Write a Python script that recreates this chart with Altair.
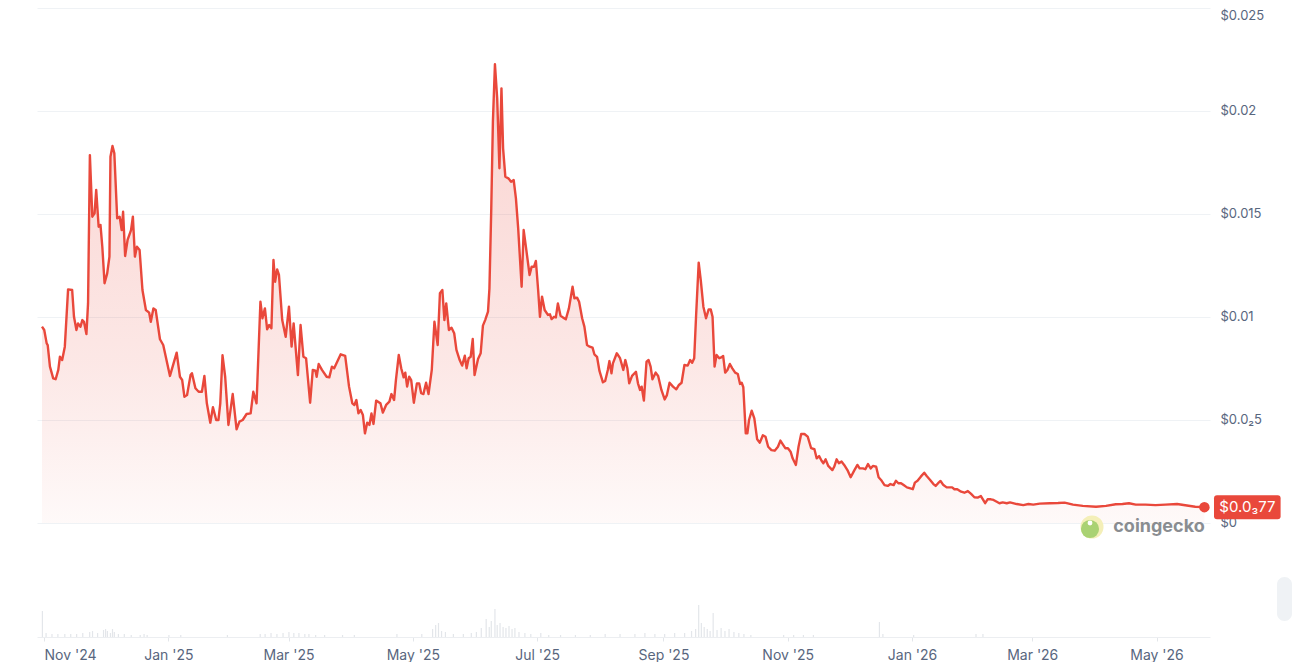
import json

import pandas as pd
import altair as alt

# price readings: days after 2024-10-31 and price in USD
price_days = [
    0.0, 1.1, 2.3, 2.8, 3.9, 5.5, 6.7, 8.0, 8.8, 9.9, 11.2, 12.8, 14.8, 15.7, 16.9, 17.7,
    18.9, 19.8, 20.6, 21.8, 22.6, 23.5, 24.7, 25.8, 26.6, 27.8, 28.7, 29.6, 30.7, 32.0,
    33.1, 33.6, 34.6, 35.5, 36.9, 38.1, 39.1, 39.8, 40.8, 42.0, 43.7, 44.6, 45.6, 46.6,
    47.9, 49.3, 51.0, 52.6, 53.4, 54.7, 55.8, 57.9, 59.5, 62.8, 66.1, 67.7, 68.8, 69.9,
    71.2, 72.9, 73.6, 75.3, 76.9, 78.5, 79.7, 80.9, 82.6, 83.9, 85.5, 86.6, 87.5, 88.6,
    89.9, 91.5, 93.6, 95.5, 96.9, 98.5, 100.4, 102.4, 103.7, 105.3, 107.2, 108.2, 109.4,
    110.5, 111.5, 112.6, 113.6, 114.4, 115.4, 116.3, 117.9, 119.6, 121.2, 122.5, 123.5,
    125.6, 126.9, 128.3, 129.6, 131.6, 132.9, 134.2, 134.8, 135.8, 137.4, 139.7, 141.0,
    142.3, 143.4, 146.6, 148.8, 150.7, 152.3, 153.3, 154.3, 155.3, 156.4, 157.5, 158.5,
    159.6, 160.7, 161.7, 162.7, 164.0, 166.1, 167.3, 168.9, 170.5, 171.5, 172.8, 173.7,
    175.1, 176.3, 177.5, 178.3, 179.2, 180.2, 181.2, 182.5, 184.0, 185.1, 186.1, 187.2,
    188.5, 189.7, 191.3, 192.6, 194.2, 195.3, 196.5, 197.5, 198.4, 199.7, 201.0, 202.3,
    203.4, 205.0, 206.2, 207.5, 208.4, 209.4, 210.4, 211.4, 212.3, 214.0, 215.3, 216.4,
    217.5, 218.9, 219.6, 220.5, 221.3, 222.3, 223.4, 224.5, 225.5, 226.3, 227.4, 228.9,
    230.2, 231.5, 232.6, 233.7, 235.4, 236.4, 237.6, 239.3, 240.3, 241.5, 242.4, 243.5,
    244.4, 245.4, 246.7, 248.3, 249.3, 250.1, 251.3, 252.2, 253.2, 254.5, 255.8, 257.1,
    258.6, 260.4, 261.3, 262.6, 263.6, 265.1, 266.2, 267.5, 268.8, 270.2, 271.1, 272.4,
    273.6, 275.3, 276.4, 277.7, 278.5, 279.5, 280.2, 282.1, 283.7, 285.3, 286.3, 287.3,
    288.2, 289.6, 291.5, 292.5, 293.5, 294.3, 295.4, 296.7, 297.7, 298.7, 299.6, 301.2,
    302.4, 304.0, 305.6, 306.7, 308.0, 309.7, 311.3, 312.6, 313.9, 315.3, 316.9, 318.1,
    319.1, 320.1, 321.0, 322.3, 323.3, 324.6, 325.9, 327.2, 328.2, 329.1, 330.1, 331.1,
    332.4, 333.4, 334.3, 335.3, 336.4, 337.6, 338.8, 340.2, 341.5, 342.6, 343.4, 344.2,
    345.4, 346.2, 347.0, 348.3, 349.6, 351.0, 352.3, 353.8, 355.1, 356.4, 358.0, 359.6,
    361.2, 362.4, 363.5, 364.8, 366.1, 367.4, 368.4, 370.0, 371.3, 372.6, 374.2, 375.8,
    377.5, 379.1, 380.2, 381.4, 382.6, 383.5, 384.6, 385.9, 387.9, 388.8, 390.0, 391.1,
    392.4, 393.7, 395.3, 396.9, 398.6, 400.2, 401.3, 402.9, 404.1, 405.4, 406.7, 407.8,
    409.4, 410.6, 411.8, 413.5, 415.1, 416.4, 418.0, 419.1, 420.3, 421.6, 422.9, 424.5,
    426.2, 427.4, 428.4, 429.7, 431.3, 433.0, 434.2, 435.9, 437.5, 438.6, 439.8, 441.0,
    442.4, 444.0, 445.6, 446.7, 447.8, 449.2, 451.1, 452.7, 454.4, 456.0, 457.6, 459.2,
    460.8, 462.9, 464.1, 465.7, 467.0, 468.6, 469.9, 471.5, 473.5, 475.1, 478.4, 481.6,
    484.1, 486.5, 489.7, 494.6, 498.7, 501.9, 506.0, 510.8, 517.3, 522.2, 527.0, 530.3,
    533.5, 536.8, 541.6, 546.5, 551.4, 557.1, 561.1, 566.0, 570.5,
]
prices = [
    0.00953, 0.00937, 0.00872, 0.00864, 0.00759, 0.00702, 0.00698, 0.00743, 0.00807, 0.00791,
    0.00856, 0.01134, 0.01131, 0.01001, 0.00937, 0.00969, 0.00953, 0.00985, 0.00977, 0.00917,
    0.01066, 0.01786, 0.01487, 0.01503, 0.01617, 0.01438, 0.01447, 0.01341, 0.01164, 0.01212,
    0.01293, 0.01778, 0.0183, 0.01795, 0.01479, 0.01487, 0.01422, 0.01511, 0.01296, 0.01374,
    0.01422, 0.01487, 0.01293, 0.01341, 0.01325, 0.01131, 0.01034, 0.01021, 0.00977, 0.01042,
    0.01034, 0.00892, 0.00864, 0.00714, 0.00827, 0.0071, 0.00694, 0.00613, 0.00621, 0.00718,
    0.00727, 0.00654, 0.00637, 0.00637, 0.00714, 0.00581, 0.00487, 0.00562, 0.005, 0.005,
    0.00581, 0.00814, 0.0071, 0.00476, 0.00626, 0.00455, 0.00492, 0.005, 0.00529, 0.00532,
    0.00637, 0.00581, 0.01074, 0.00994, 0.01042, 0.0094, 0.00961, 0.00945, 0.01277, 0.01171,
    0.01231, 0.01204, 0.00985, 0.00904, 0.0105, 0.00856, 0.00969, 0.00718, 0.00961, 0.00807,
    0.008, 0.00584, 0.00743, 0.00739, 0.0071, 0.00772, 0.00743, 0.0071, 0.00707, 0.00759,
    0.00751, 0.00819, 0.00811, 0.00662, 0.00581, 0.00573, 0.00597, 0.00532, 0.00549, 0.00524,
    0.00435, 0.00487, 0.00476, 0.00532, 0.00481, 0.00594, 0.00581, 0.00536, 0.00573, 0.00589,
    0.00626, 0.00597, 0.00694, 0.00816, 0.00751, 0.00707, 0.0073, 0.00662, 0.0071, 0.00694,
    0.00584, 0.00678, 0.00678, 0.0063, 0.00626, 0.00681, 0.00626, 0.00743, 0.00977, 0.00864,
    0.01115, 0.01131, 0.00985, 0.01066, 0.00937, 0.00948, 0.00921, 0.0084, 0.00791, 0.00764,
    0.00812, 0.00751, 0.008, 0.00807, 0.00893, 0.00718, 0.00796, 0.00824, 0.00958, 0.00985,
    0.01026, 0.01139, 0.01528, 0.01948, 0.02227, 0.02062, 0.01722, 0.0211, 0.01819, 0.01681,
    0.01673, 0.01657, 0.01665, 0.01576, 0.01431, 0.01147, 0.01422, 0.01333, 0.01204, 0.01244,
    0.01244, 0.01272, 0.01131, 0.01001, 0.01099, 0.01034, 0.0101, 0.01013, 0.0099, 0.01001,
    0.00998, 0.01066, 0.01006, 0.00997, 0.00989, 0.01042, 0.01147, 0.01091, 0.01094, 0.01074,
    0.00994, 0.00953, 0.00864, 0.00856, 0.00851, 0.00819, 0.00807, 0.00738, 0.00683, 0.00689,
    0.00743, 0.00786, 0.00727, 0.00775, 0.00824, 0.008, 0.00743, 0.00791, 0.00751, 0.00678,
    0.00714, 0.00734, 0.00678, 0.00646, 0.00662, 0.00594, 0.00783, 0.00791, 0.00759, 0.00698,
    0.0073, 0.00714, 0.00646, 0.006, 0.00621, 0.00681, 0.00662, 0.00649, 0.0067, 0.00681,
    0.00767, 0.00764, 0.00791, 0.00778, 0.008, 0.01001, 0.01264, 0.0118, 0.0105, 0.00994,
    0.01037, 0.01037, 0.01001, 0.00759, 0.00816, 0.008, 0.00804, 0.00811, 0.0073, 0.00743,
    0.00772, 0.00751, 0.0073, 0.00723, 0.00675, 0.00681, 0.00659, 0.00435, 0.00435, 0.005,
    0.00545, 0.00508, 0.00406, 0.0039, 0.00426, 0.00419, 0.0037, 0.00354, 0.00351, 0.0037,
    0.004, 0.00383, 0.00363, 0.00363, 0.00346, 0.00314, 0.00282, 0.0037, 0.00432, 0.00432,
    0.00419, 0.00363, 0.00358, 0.00314, 0.00325, 0.00302, 0.0029, 0.00309, 0.00277, 0.00257,
    0.00273, 0.00309, 0.0029, 0.00298, 0.00282, 0.00257, 0.00222, 0.00254, 0.00282, 0.00265,
    0.00265, 0.00261, 0.00286, 0.00265, 0.00277, 0.00273, 0.00222, 0.00209, 0.00184, 0.0018,
    0.00189, 0.00184, 0.00205, 0.00193, 0.00193, 0.00184, 0.00173, 0.00168, 0.00164, 0.00196,
    0.00205, 0.00225, 0.00244, 0.00228, 0.00209, 0.00189, 0.0018, 0.00193, 0.00204, 0.00184,
    0.00173, 0.00173, 0.00173, 0.00164, 0.00164, 0.00152, 0.00147, 0.00155, 0.00141, 0.00125,
    0.00123, 0.00131, 0.00096, 0.00115, 0.00115, 0.00112, 0.00103, 0.00096, 0.001, 0.00096,
    0.001, 0.00092, 0.00087, 0.00092, 0.00089, 0.00094, 0.00096, 0.00097, 0.00099, 0.00089,
    0.00083, 0.00079, 0.00083, 0.00091, 0.00092, 0.00096, 0.00089, 0.00089, 0.00087, 0.00089,
    0.00092, 0.00086, 0.00079, 0.00077,
]

# trading volume (relative units), same day offsets
volume_days = [
    0.2, 2, 4.9, 7.8, 11.2, 14.1, 17, 20, 23.4, 24.8, 27.3, 30.2, 31.2, 32.1, 33.6, 34.6,
    35.5, 37.5, 40.4, 43.8, 48.2, 50.1, 51.6, 62.3, 68.1, 91, 107.1, 109.5, 112.4, 115.3,
    118.3, 121.2, 123.6, 126.1, 129, 131, 134.3, 138.7, 147.5, 153.3, 174.2, 186.4, 191.7,
    193.2, 194.6, 196.1, 198, 201.9, 206.8, 210.7, 213.2, 215.6, 218, 219.5, 220.5, 222.3,
    223.4, 224.8, 226.3, 227.7, 229.2, 230.7, 232.1, 234.1, 237, 239.9, 244.8, 248.7, 254.5,
    261.8, 269.1, 276.4, 283.7, 291, 295.9, 300.8, 305.6, 310.5, 315.4, 318.8, 320.8, 322.3,
    323.6, 325, 326.5, 327.9, 329.4, 331.3, 333.3, 335.2, 337.2, 339.6, 342, 344.5, 347.9,
    364, 368.9, 373.7, 378.6, 411, 412.7, 427.8, 458.4, 461.8,
]
volumes = [
    260, 40, 30, 30, 30, 30, 30, 40, 50, 60, 40, 70, 80, 60, 40, 80,
    50, 30, 30, 20, 20, 30, 20, 20, 20, 20, 30, 30, 40, 30,
    40, 50, 40, 40, 30, 30, 20, 20, 20, 20, 30, 30, 80,
    120, 140, 60, 50, 30, 30, 40, 50, 90, 180, 100, 160, 280,
    120, 140, 100, 90, 110, 80, 90, 50, 40, 30, 40, 20, 20,
    20, 20, 30, 30, 30, 40, 30, 30, 40, 40, 60, 80, 320,
    140, 100, 80, 60, 240, 70, 90, 60, 80, 50, 40, 30, 20,
    20, 20, 20, 20, 150, 30, 20, 30, 30,
]

y_ticks = [0, 0.005, 0.01, 0.015, 0.02, 0.025]
y_tick_labels = ["$0", "$0.0₂5", "$0.01", "$0.015", "$0.02", "$0.025"]
x_tick_months = [(2024, 11), (2025, 1), (2025, 3), (2025, 5), (2025, 7), (2025, 9),
                 (2025, 11), (2026, 1), (2026, 3), (2026, 5)]
last_price_label = "$0.0₃77"

RED = "#e9483b"
GREY = "#58667e"
LIGHT = "#eff2f5"
FONT = "Inter"

start = pd.Timestamp("2024-10-31")
price_df = pd.DataFrame({"date": start + pd.to_timedelta(price_days, unit="D"), "price": prices})
vol_df = pd.DataFrame({"date": start + pd.to_timedelta(volume_days, unit="D"), "volume": volumes})
last_df = price_df.tail(1).assign(label=last_price_label)
one_row = pd.DataFrame({"k": [0]})

x_enc = alt.X(
    "date:T",
    title=None,
    scale=alt.Scale(domain=[alt.DateTime(year=2024, month=10, date=31),
                            alt.DateTime(year=2026, month=5, date=24, hours=19)]),
    axis=alt.Axis(
        values=[alt.DateTime(year=y, month=m, date=1) for y, m in x_tick_months],
        format="%b '%y", labelFlush=False, labelOverlap=False,
        # first label sits flush with the left edge, the rest are centred
        labelAlign={"condition": {"test": "datum.value < datetime(2024, 10, 15)", "value": "left"},
                    "value": "center"},
        labelColor=GREY, labelFont=FONT, labelFontSize=14, labelPadding=7,
        tickSize=4, tickColor="#e3e6ea", domainColor="#eceef1", grid=False,
    ),
)

label_expr = f"{json.dumps(y_tick_labels, ensure_ascii=False)}[round(datum.value / {y_ticks[1]})]"
y_enc = alt.Y(
    "price:Q",
    title=None,
    scale=alt.Scale(domain=[-0.005534, 0.025], nice=False, zero=False),
    axis=alt.Axis(
        orient="right", values=y_ticks, labelExpr=label_expr,
        grid=True, gridColor=LIGHT, domain=False, ticks=False,
        labelPadding=10, labelColor=GREY, labelFont=FONT, labelFontSize=13,
        labelBaseline={"condition": {"test": "datum.value >= 0.024", "value": "top"},
                       "value": "middle"},
        labelOffset={"condition": {"test": "datum.value >= 0.024", "value": 1}, "value": 0},
    ),
)

fill = alt.Gradient(
    gradient="linear",
    stops=[alt.GradientStop(color="rgba(233,72,59,0.03)", offset=0),
           alt.GradientStop(color="rgba(233,72,59,0.13)", offset=0.35),
           alt.GradientStop(color="rgba(233,72,59,0.24)", offset=1)],
    x1=1, x2=1, y1=1, y2=0,
)

area = alt.Chart(price_df).mark_area(color=fill).encode(x=x_enc, y=y_enc, y2=alt.datum(0))
line = alt.Chart(price_df).mark_line(color=RED, strokeWidth=2.4, strokeJoin="round").encode(x=x_enc, y=y_enc)
dot = alt.Chart(last_df).mark_circle(size=110, color=RED, opacity=1).encode(x=x_enc, y=y_enc)

# rounded price tag to the right of the last point
badge_path = ("M1.05,-1 L6.1,-1 Q6.35,-1 6.35,-0.75 L6.35,0.75 Q6.35,1 6.1,1 "
              "L1.05,1 Q0.8,1 0.8,0.75 L0.8,-0.75 Q0.8,-1 1.05,-1 Z")
badge = alt.Chart(last_df).mark_point(
    shape=badge_path, size=576, filled=True, color=RED, opacity=1, strokeWidth=0
).encode(x=x_enc, y=y_enc)
badge_text = alt.Chart(last_df).mark_text(
    dx=43, color="white", font=FONT, fontSize=15, align="center", baseline="middle"
).encode(x=x_enc, y=y_enc, text="label:N")

price = alt.layer(area, line, dot, badge, badge_text)

volume = alt.Chart(vol_df).mark_bar(size=1.2, color="#e3e6ea").encode(
    x=x_enc,
    y=alt.Y("volume:Q", scale=alt.Scale(domain=[0, 6290]), axis=None),
)

# watermark
logo_ring = alt.Chart(one_row).mark_circle(size=530, color="#f4efb8", opacity=1).encode(
    x=alt.value(1055), y=alt.value(519))
logo_body = alt.Chart(one_row).mark_circle(size=330, color="#a9d273", opacity=1).encode(
    x=alt.value(1053), y=alt.value(521))
logo_eye = alt.Chart(one_row).mark_circle(size=24, color="white", opacity=1).encode(
    x=alt.value(1053), y=alt.value(515))
logo_text = alt.Chart(one_row).mark_text(
    text="coingecko", font=FONT, fontSize=18, fontWeight="bold", color="#8a8d91",
    align="center", baseline="middle",
).encode(x=alt.value(1122), y=alt.value(519))

# expand button peeking in at the right edge
button = alt.Chart(one_row).mark_rect(color=LIGHT, cornerRadius=8).encode(
    x=alt.value(1240), x2=alt.value(1255), y=alt.value(569), y2=alt.value(613))

chart = alt.layer(
    volume, price, logo_ring, logo_body, logo_eye, logo_text, button
).resolve_scale(
    y="independent"
).properties(
    width=1173,
    height=629,
    padding={"left": 29, "top": 0, "right": 0, "bottom": 0},
).configure_view(
    strokeWidth=0
)

chart.save("out.html", embed_options={"renderer": "svg", "actions": False})
